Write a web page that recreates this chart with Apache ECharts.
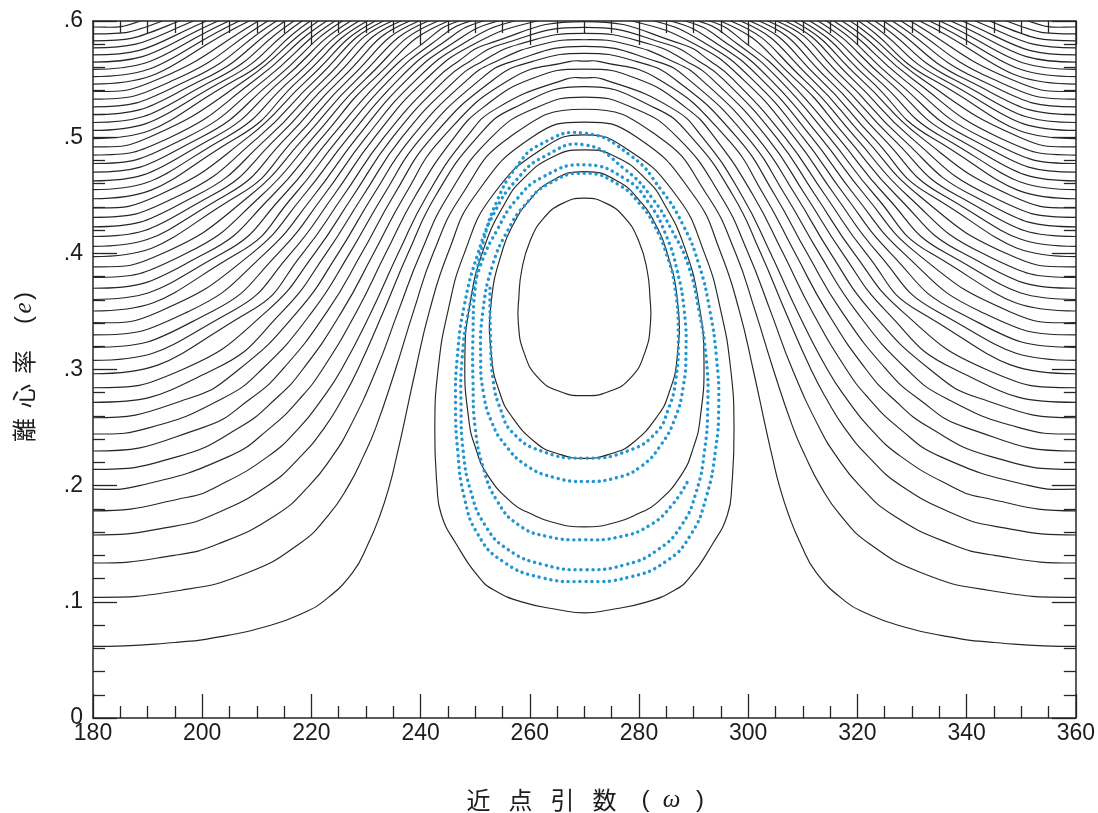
<!DOCTYPE html>
<html>
<head>
<meta charset="utf-8">
<script src="https://cdn.jsdelivr.net/npm/echarts@6/dist/echarts.min.js"></script>
<style>
html,body{margin:0;padding:0;background:#ffffff;}
#chart{width:1098px;height:813px;}
</style>
</head>
<body>
<div id="chart"></div>
<script>
// ---------------- DATA ----------------
// tick labels
const xTickLabels = ['180','200','220','240','260','280','300','320','340','360'];
const yTickLabels = ['0','.1','.2','.3','.4','.5','.6'];

// Circulating contours, left half only [ω, e] from ω=180 to the peak at ω=270
// (the diagram is symmetric about ω=270). Lowest group: arches over the island.
const circLow = [
  [[180,.0616],[195.0,.065],[203.4,.07],[212.7,.08],[218.3,.09],[222.1,.10],[227.5,.125],[230.4,.15],[232.6,.175],[234.3,.20],[235.6,.225],[236.8,.25],[239.1,.30],[241.6,.35],[245.0,.40],[250.0,.45],[260.4,.50],[270,.513]],
  [[180,.1039],[196.1,.11],[208.3,.125],[217.8,.15],[223.2,.175],[226.8,.20],[229.5,.225],[231.8,.25],[235.4,.30],[238.7,.35],[242.3,.40],[247.5,.45],[256.3,.50],[270,.524]],
  [[180,.1334],[194.9,.14],[203.0,.15],[213.6,.175],[219.6,.20],[223.8,.225],[227.0,.25],[231.9,.30],[235.9,.35],[240.0,.40],[245.1,.45],[253.0,.50],[261.0,.525],[270,.5345]],
  [[180,.1575],[194.8,.165],[202.0,.175],[212.0,.20],[218.0,.225],[222.4,.25],[225.7,.275],[228.5,.30],[233.2,.35],[237.7,.40],[242.8,.45],[250.4,.50],[257.0,.525],[270,.5435]],
  [[180,.1783],[197.3,.19],[203.0,.20],[212.0,.225],[217.8,.25],[222.0,.275],[225.5,.30],[231.0,.35],[235.9,.40],[241.2,.45],[248.4,.50],[254.0,.525],[266.6,.55],[270,.551]],
  [[180,.1970],[188.5,.20],[204.8,.225],[212.5,.25],[217.9,.275],[222.0,.30],[228.3,.35],[233.6,.40],[239.1,.45],[246.2,.50],[251.3,.525],[260.2,.55],[270,.5586]],
  [[180,.2140],[195.5,.225],[206.8,.25],[213.5,.275],[218.4,.30],[225.6,.35],[231.4,.40],[237.1,.45],[244.1,.50],[256.5,.55],[267.2,.565],[270,.5655]],
  [[180,.2298],[200.1,.25],[208.9,.275],[214.7,.30],[222.9,.35],[229.2,.40],[235.1,.45],[242.1,.50],[253.5,.55],[260.4,.565],[270,.5721]],
  [[180,.2445],[190.4,.25],[203.7,.275],[210.9,.30],[220.2,.35],[227.0,.40],[233.2,.45],[240.2,.50],[251.0,.55],[256.7,.565],[270,.5782]],
  [[180,.2585],[197.5,.275],[206.7,.30],[217.5,.35],[224.9,.40],[231.3,.45],[238.4,.50],[248.7,.55],[253.7,.565],[262.3,.58],[270,.5839]],
  [[180,.2717],[202.1,.30],[214.7,.35],[222.7,.40],[229.5,.45],[236.6,.50],[246.6,.55],[251.2,.565],[258.0,.58],[270,.5894]],
  [[180,.2843],[196.4,.30],[211.8,.35],[220.6,.40],[227.7,.45],[234.9,.50],[244.6,.55],[248.9,.565],[254.8,.58],[270,.5945]],
  [[180,.2963],[208.7,.35],[218.4,.40],[225.9,.45],[233.3,.50],[242.8,.55],[246.8,.565],[252.1,.58],[270,.5995]]
];

// Middle group: leave through the top edge (e = .6), peak just above the frame.
const circMid = [
  [[180,.3079],[205.4,.35],[216.2,.40],[224.1,.45],[231.6,.50],[241.0,.55],[249.75,.58],[261.3,.60],[270,.604]],
  [[180,.3191],[201.8,.35],[213.9,.40],[222.3,.45],[230.0,.50],[239.3,.55],[247.6,.58],[257.2,.60],[270,.608]],
  [[180,.3298],[197.5,.35],[211.5,.40],[220.5,.45],[228.4,.50],[237.6,.55],[245.6,.58],[254.2,.60],[270,.612]],
  [[180,.3403],[192.2,.35],[209.1,.40],[218.6,.45],[226.8,.50],[236.0,.55],[243.7,.58],[251.5,.60],[270,.616]],
  [[180,.3504],[206.5,.40],[216.8,.45],[225.2,.50],[234.4,.55],[241.9,.58],[249.2,.60],[270,.620]],
  [[180,.3603],[203.7,.40],[214.9,.45],[223.6,.50],[232.9,.55],[240.2,.58],[247.1,.60],[270,.623]],
  [[180,.3699],[200.6,.40],[212.9,.45],[222.0,.50],[231.4,.55],[245.1,.60],[270,.627]],
  [[180,.3792],[197.1,.40],[210.9,.45],[220.4,.50],[229.9,.55],[243.2,.60],[270,.630]],
  [[180,.3883],[192.8,.40],[208.8,.45],[218.8,.50],[228.4,.55],[241.4,.60],[270,.634]],
  [[180,.3972],[206.6,.45],[217.2,.50],[226.9,.55],[239.7,.60],[270,.637]],
  [[180,.4060],[204.3,.45],[215.5,.50],[225.4,.55],[238.0,.60],[270,.640]],
  [[180,.4145],[201.8,.45],[213.8,.50],[223.9,.55],[236.4,.60],[270,.643]],
  [[180,.4228],[199.0,.45],[212.1,.50],[222.4,.55],[234.8,.60],[270,.646]]
];

// Upper group: cross the top edge early; last point lies above the frame.
const circHigh = [
  [[180,.4310],[195.9,.45],[210.3,.50],[220.9,.55],[233.2,.60],[264.7,.65]],
  [[180,.4391],[192.0,.45],[208.4,.50],[219.4,.55],[231.7,.60],[258.8,.65]],
  [[180,.4470],[206.5,.50],[217.9,.55],[230.2,.60],[255.0,.65]],
  [[180,.4548],[204.4,.50],[216.4,.55],[228.7,.60],[251.9,.65]],
  [[180,.4624],[202.2,.50],[214.8,.55],[227.2,.60],[249.2,.65]],
  [[180,.4699],[199.8,.50],[213.3,.55],[225.7,.60],[246.8,.65]],
  [[180,.4773],[197.2,.50],[211.6,.55],[224.3,.60],[244.6,.65]],
  [[180,.4846],[194.2,.50],[209.9,.55],[222.8,.60],[242.5,.65]],
  [[180,.4917],[190.3,.50],[208.2,.55],[221.3,.60],[240.5,.65]],
  [[180,.4988],[206.4,.55],[219.8,.60],[238.5,.65]],
  [[180,.5058],[204.5,.55],[218.3,.60],[236.7,.65]],
  [[180,.5126],[202.5,.55],[216.8,.60],[234.9,.65]],
  [[180,.5194],[200.3,.55],[215.2,.60],[233.1,.65]],
  [[180,.5261],[197.9,.55],[213.6,.60],[231.4,.65]],
  [[180,.5327],[195.2,.55],[212.0,.60],[229.7,.65]],
  [[180,.5393],[192.0,.55],[210.3,.60],[228.0,.65]],
  [[180,.5457],[208.6,.60],[226.3,.65]],
  [[180,.5521],[206.8,.60],[224.6,.65]],
  [[180,.5584],[204.9,.60],[222.9,.65]],
  [[180,.5646],[202.9,.60],[221.2,.65]],
  [[180,.5708],[200.8,.60],[219.5,.65]],
  [[180,.5769],[198.4,.60],[217.8,.65]],
  [[180,.5829],[195.8,.60],[216.0,.65]],
  [[180,.5889],[192.7,.60],[214.3,.65]],
  [[180,.5948],[188.7,.60],[212.4,.65]]
];

// Closed (librating) contours, left half from the bottom (ω=270) to the top (ω=270)
const librationLoops = [
  [[270,.2775],[265.5,.281],[261.5,.293],[258.9,.315],[257.9,.34],[258.0,.3625],[258.5,.385],[260,.41],[262.5,.43],[266,.443],[270,.4475]],
  [[270,.2235],[265,.2277],[261.1,.2369],[256.5,.2608],[254.5,.28],[253.05,.3087],[252.9,.3565],[255.1,.4044],[257.35,.4283],[259.4,.4427],[263.8,.4618],[270,.4704]],
  [[270,.1645],[264,.1687],[260,.1762],[256.9,.1845],[252.3,.2089],[250,.2334],[248.8,.2578],[248.1,.3067],[249,.3556],[251.6,.4045],[255.5,.4436],[258.6,.4632],[264.1,.4828],[270,.489]],
  [[270,.0905],[265.5,.093],[258.5,.10],[253.5,.11],[250.9,.12],[246.5,.15],[243.8,.175],[243,.20],[242.6,.25],[243.2,.30],[245,.35],[248,.40],[253.2,.45],[262.3,.49],[270,.502]]
];

// Blue dotted trajectory [ω, e]
const trajectory = [
  [252.7,.37],[252.8,.33],[253.3,.29],[254.7,.265],[256.8,.246],[262,.230],[270,.2237],
  [278,.230],[283.2,.246],[285.3,.265],[286.7,.29],[287.2,.33],[286.6,.37],[285,.40],[282.7,.425],[280.6,.44],[276.3,.459],[270,.469],
  [263.5,.46],[259,.441],[256,.42],[253.2,.39],[251.4,.35],[251.0,.31],[251.5,.28],[253,.255],[255.5,.235],[259.5,.217],[264.5,.207],[270,.2036],
  [276,.207],[280.5,.217],[284,.235],[286.6,.258],[288.1,.285],[288.6,.315],[288.3,.35],[287,.385],[285,.415],[282,.442],[277.5,.464],[270,.4762],
  [262.5,.466],[257.5,.446],[254,.42],[251,.39],[248.8,.35],[247.6,.31],[247.4,.27],[247.8,.23],[249.2,.195],[251.8,.166],[256,.145],[262.5,.132],[270,.1276],
  [277.5,.132],[283.5,.145],[287.8,.166],[290.5,.195],[292,.23],[292.6,.27],[292.3,.31],[291,.35],[289,.39],[286,.42],[282.5,.447],[277.5,.472],[270,.4934],
  [262.5,.483],[257.5,.463],[253.5,.435],[250.5,.40],[248,.355],[246.7,.31],[246.4,.27],[246.8,.23],[248,.19],[250.5,.158],[255,.135],[262,.121],[270,.1175],
  [278,.121],[285,.135],[289.5,.158],[292.3,.19],[294,.23],[294.6,.27],[294.2,.31],[293,.35],[291,.39],[288,.425],[284,.455],[278.5,.484],[270,.5034],
  [262,.494],[257.5,.474],[254,.445],[251.5,.41],[250,.37],[249.6,.33],[249.6,.29],[250,.25],[251.5,.215],[254,.187],[258,.166],[263.5,.156],[270,.1534],
  [276.5,.156],[282,.166],[286,.183],[288.9,.2036]
];

// ---------------- BUILD ----------------
const INK = '#262626';
const BLUE = '#2196d3';
const TEXT = '#1c1c1c';
const SMOOTH = 0.5;

// symmetric completion of an open contour (mirror about ω=180, 270, 360; outside parts are clipped)
function openCurve(left) {
  const inner = left.filter(p => p[0] > 180 && p[0] < 270);
  const pts = [];
  for (let i = inner.length - 1; i >= 0; i--) pts.push([360 - inner[i][0], inner[i][1]]);
  left.forEach(p => pts.push(p));
  for (let i = inner.length - 1; i >= 0; i--) pts.push([540 - inner[i][0], inner[i][1]]);
  pts.push([360, left[0][1]]);
  inner.forEach(p => pts.push([180 + p[0], p[1]]));
  return pts;
}
// closed ring from its left half (mirror about ω=270)
function ringCurve(left) {
  const pts = left.slice();
  for (let i = left.length - 2; i >= 1; i--) pts.push([540 - left[i][0], left[i][1]]);
  return pts;
}

// one custom series per curve; the curve is drawn through the cartesian coordinate system
function curveSeries(pts, closed, style, z) {
  return {
    type: 'custom',
    coordinateSystem: 'cartesian2d',
    xAxisIndex: 0, yAxisIndex: 0,
    clip: true, silent: true, z: z,
    data: pts,
    encode: { x: 0, y: 1 },
    renderItem: function (params, api) {
      if (params.dataIndex !== 0) return null;
      const pix = pts.map(p => api.coord(p));
      return {
        type: closed ? 'polygon' : 'polyline',
        shape: { points: pix, smooth: SMOOTH },
        style: Object.assign({ fill: 'none' }, style)
      };
    }
  };
}

const series = [];
[].concat(circLow, circMid, circHigh).forEach(c => {
  series.push(curveSeries(openCurve(c), false, { stroke: INK, lineWidth: 1.15 }, 2));
});
librationLoops.forEach(c => {
  series.push(curveSeries(ringCurve(c), true, { stroke: INK, lineWidth: 1.15 }, 2));
});
series.push(curveSeries(trajectory, false, {
  stroke: BLUE, lineWidth: 3.4, lineDash: [0.1, 5.8], lineCap: 'round'
}, 5));

function axisParts(minorSplit) {
  return {
    axisLine: { onZero: false, lineStyle: { color: INK, width: 1.5 } },
    axisTick: { inside: true, length: 24, lineStyle: { color: INK, width: 1.3 } },
    minorTick: { show: true, splitNumber: minorSplit, length: 12, lineStyle: { color: INK, width: 1.3 } },
    splitLine: { show: false },
    minorSplitLine: { show: false }
  };
}
const labelFont = '"Liberation Sans", Arial, Helvetica, sans-serif';
const cjkFont = '"Noto Sans CJK JP", "Noto Sans CJK SC", sans-serif';

const option = {
  animation: false,
  backgroundColor: '#ffffff',
  grid: { left: 93, right: 21, top: 21, bottom: 95 },
  xAxis: [
    Object.assign({
      type: 'value', position: 'bottom', min: 180, max: 360, interval: 20,
      axisLabel: {
        margin: 4, fontSize: 23, fontFamily: labelFont, color: TEXT,
        formatter: v => xTickLabels[Math.round((v - 180) / 20)]
      }
    }, axisParts(4)),
    Object.assign({
      type: 'value', position: 'top', min: 180, max: 360, interval: 20,
      axisLabel: { show: false }
    }, axisParts(4))
  ],
  yAxis: [
    Object.assign({
      type: 'value', position: 'left', min: 0, max: 0.6, interval: 0.1,
      axisLabel: {
        margin: 10, fontSize: 23, fontFamily: labelFont, color: TEXT,
        formatter: v => yTickLabels[Math.round(v * 10)]
      }
    }, axisParts(5)),
    Object.assign({
      type: 'value', position: 'right', min: 0, max: 0.6, interval: 0.1,
      axisLabel: { show: false }
    }, axisParts(5))
  ],
  graphic: [
    {
      type: 'text', x: 583, y: 800, silent: true,
      style: {
        text: '{c|近}{c|点}{c|引}{c|数}{g| }{p|(}{w|ω}{q|)}',
        align: 'center', verticalAlign: 'middle', textAlign: 'center', textVerticalAlign: 'middle',
        fill: TEXT,
        rich: {
          c: { width: 42, align: 'center', fontSize: 24, fontFamily: cjkFont, fill: TEXT, color: TEXT },
          g: { width: 14, fontSize: 23, fontFamily: labelFont },
          p: { width: 12, align: 'center', fontSize: 24, fontFamily: labelFont, fill: TEXT, color: TEXT },
          w: { width: 40, align: 'center', fontSize: 25, fontStyle: 'italic', fontFamily: '"Liberation Serif", serif', fill: TEXT, color: TEXT },
          q: { width: 17, align: 'center', fontSize: 24, fontFamily: labelFont, fill: TEXT, color: TEXT }
        }
      }
    },
    {
      type: 'text', x: 24, y: 369, rotation: Math.PI / 2, silent: true,
      style: {
        text: '{c|離}{c|心}{c|率}{g| }{p|(}{e|e}{p|)}',
        align: 'center', verticalAlign: 'middle', textAlign: 'center', textVerticalAlign: 'middle',
        fill: TEXT,
        rich: {
          c: { width: 34, align: 'center', fontSize: 24, fontFamily: cjkFont, fill: TEXT, color: TEXT },
          g: { width: 20, fontSize: 23, fontFamily: labelFont },
          p: { width: 10, align: 'center', fontSize: 24, fontFamily: labelFont, fill: TEXT, color: TEXT },
          e: { width: 14, align: 'center', fontSize: 25, fontStyle: 'italic', fontFamily: '"Liberation Serif", serif', fill: TEXT, color: TEXT }
        }
      }
    }
  ],
  series: series
};

const chart = echarts.init(document.getElementById('chart'), null, { renderer: 'canvas' });
chart.setOption(option);
</script>
</body>
</html>
